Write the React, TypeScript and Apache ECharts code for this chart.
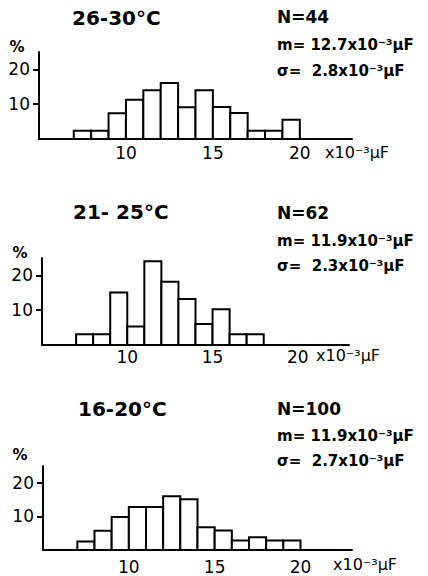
import React, { useEffect, useRef } from "react";
import * as echarts from "echarts";

// ---- data ----
const BIN_WIDTH = 1; // x10^-3 uF
const bins1 = [7, 8, 9, 10, 11, 12, 13, 14, 15, 16, 17, 18, 19];
const pct1 = [2.4, 2.4, 7.4, 11.3, 14.0, 16.1, 9.1, 14.0, 9.2, 7.5, 2.4, 2.4, 5.5];
const bins2 = [7, 8, 9, 10, 11, 12, 13, 14, 15, 16, 17];
const pct2 = [3.1, 3.1, 15.1, 5.3, 24.1, 18.2, 13.2, 6.0, 10.3, 3.1, 3.1];
const bins3 = [7, 8, 9, 10, 11, 12, 13, 14, 15, 16, 17, 18, 19];
const pct3 = [2.5, 5.7, 9.8, 12.8, 12.8, 16.0, 15.1, 6.8, 5.8, 2.8, 3.8, 2.8, 2.8];

const titles = ["26-30°C", "21- 25°C", "16-20°C"];
const nLabels = ["N=44", "N=62", "N=100"];
const mLabels = ["m= 12.7x10⁻³µF", "m= 11.9x10⁻³µF", "m= 11.9x10⁻³µF"];
const sLabels = ["σ=  2.8x10⁻³µF", "σ=  2.3x10⁻³µF", "σ=  2.7x10⁻³µF"];
const xTickValues = [10, 15, 20];
const yTickValues = [10, 20];
const unitLabel = "x10⁻³µF";
const yUnit = "%";

const X_MIN = 5;
const X_MAX = 23;
const Y_MAX = 25;

// ---- layout ----
const grids = [
  { left: 39, top: 52, width: 313, height: 87 },
  { left: 42, top: 258, width: 307, height: 87 },
  { left: 43, top: 466, width: 309, height: 84 },
];
const xLabelMargins = [5, 3, 8];
const titlePos = [
  { x: 72, y: 18 },
  { x: 73, y: 212 },
  { x: 78, y: 409 },
];
const statX = 277;
const statY = [
  [17, 45, 71],
  [213, 241, 266],
  [409, 436, 461],
];
const unitPos = [
  { x: 325, y: 152 },
  { x: 316, y: 355 },
  { x: 333, y: 564 },
];
const pctPos = [
  { x: 17, y: 47 },
  { x: 20, y: 253 },
  { x: 20, y: 455 },
];

const FONT = "DejaVu Sans";

export default function App() {
  const ref = useRef<HTMLDivElement>(null);

  useEffect(() => {
    if (!ref.current) return;
    document.body.style.margin = "0";
    const chart = echarts.init(ref.current, undefined, { renderer: "svg" });

    const datasets = [
      bins1.map((b, i) => [b, pct1[i]]),
      bins2.map((b, i) => [b, pct2[i]]),
      bins3.map((b, i) => [b, pct3[i]]),
    ];

    const renderItem = (params: any, api: any) => {
      const x0 = api.value(0);
      const v = api.value(1);
      const p0 = api.coord([x0, 0]);
      const p1 = api.coord([x0 + BIN_WIDTH, v]);
      return {
        type: "rect",
        shape: {
          x: p0[0],
          y: p1[1],
          width: p1[0] - p0[0],
          height: p0[1] - p1[1],
        },
        style: { fill: "#ffffff", stroke: "#000000", lineWidth: 2 },
      };
    };

    const graphic: any[] = [];
    for (let i = 0; i < 3; i++) {
      graphic.push({
        type: "text",
        x: titlePos[i].x,
        y: titlePos[i].y,
        style: {
          text: titles[i],
          font: `bold 20px "${FONT}"`,
          fill: "#000",
          align: "left",
          verticalAlign: "middle",
        },
      });
      [nLabels[i], mLabels[i], sLabels[i]].forEach((t, k) => {
        graphic.push({
          type: "text",
          x: statX,
          y: statY[i][k],
          style: {
            text: t,
            font: `bold ${k === 0 ? 17 : 15}px "${FONT}"`,
            fill: "#000",
            align: "left",
            verticalAlign: "middle",
          },
        });
      });
      graphic.push({
        type: "text",
        x: unitPos[i].x,
        y: unitPos[i].y,
        style: {
          text: unitLabel,
          font: `16px "${FONT}"`,
          fill: "#000",
          align: "left",
          verticalAlign: "middle",
        },
      });
      graphic.push({
        type: "text",
        x: pctPos[i].x,
        y: pctPos[i].y,
        style: {
          text: yUnit,
          font: `bold 15px "${FONT}"`,
          fill: "#000",
          align: "center",
          verticalAlign: "middle",
        },
      });
    }

    const option: any = {
      animation: false,
      backgroundColor: "#ffffff",
      grid: grids.map((g) => ({ ...g, containLabel: false })),
      xAxis: grids.map((_, i) => ({
        type: "value",
        gridIndex: i,
        min: X_MIN,
        max: X_MAX,
        interval: 5,
        splitLine: { show: false },
        axisLine: { show: true, lineStyle: { color: "#000", width: 2 } },
        axisTick: { show: false },
        axisLabel: {
          show: true,
          customValues: xTickValues,
          margin: xLabelMargins[i],
          fontSize: 17,
          fontFamily: FONT,
          color: "#000",
          formatter: (v: number) => (xTickValues.includes(v) ? String(v) : ""),
        },
      })),
      yAxis: grids.map((_, i) => ({
        type: "value",
        gridIndex: i,
        min: 0,
        max: Y_MAX,
        interval: 10,
        splitLine: { show: false },
        axisLine: { show: true, lineStyle: { color: "#000", width: 2 } },
        axisTick: {
          show: true,
          customValues: yTickValues,
          length: 6,
          lineStyle: { color: "#000", width: 2 },
        },
        axisLabel: {
          show: true,
          customValues: yTickValues,
          margin: 9,
          fontSize: 17,
          fontFamily: FONT,
          color: "#000",
          formatter: (v: number) => (yTickValues.includes(v) ? String(v) : ""),
        },
      })),
      series: datasets.map((d, i) => ({
        type: "custom",
        xAxisIndex: i,
        yAxisIndex: i,
        renderItem,
        clip: false,
        encode: { x: 0, y: 1 },
        data: d,
      })),
      graphic,
    };

    chart.setOption(option);
    return () => chart.dispose();
  }, []);

  return (
    <div
      ref={ref}
      style={{
        position: "absolute",
        left: 0,
        top: 0,
        width: 428,
        height: 576,
        background: "#fff",
      }}
    />
  );
}
